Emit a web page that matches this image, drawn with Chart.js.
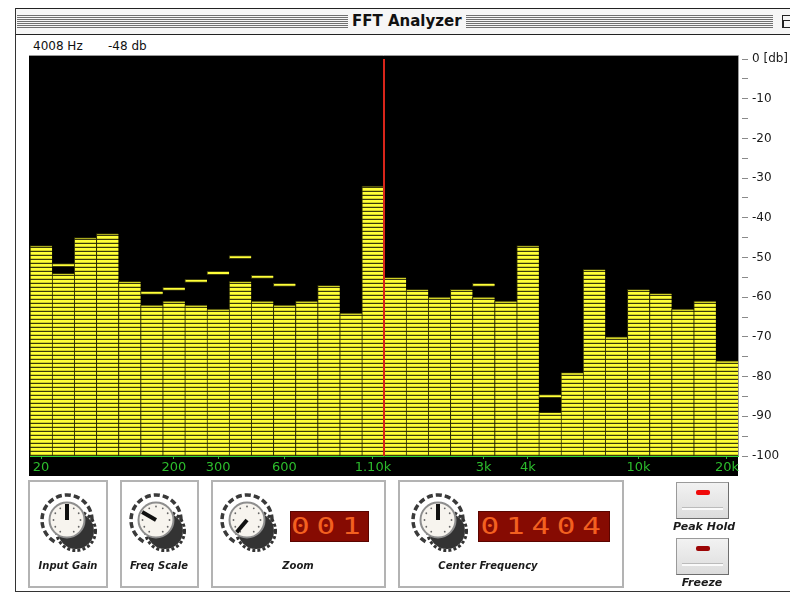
<!DOCTYPE html>
<html>
<head>
<meta charset="utf-8">
<script src="https://cdn.jsdelivr.net/npm/chart.js@4/dist/chart.umd.min.js"></script>
<style>
body { margin: 0; background: #fff; font-family: "DejaVu Sans", sans-serif; }
#win { position: relative; width: 790px; height: 594px; overflow: hidden; background: #fff; }
#chart { position: absolute; left: 0; top: 0; }
#titlebar { position: absolute; left: 15px; top: 8px; width: 790px; height: 25px; background: #f6f6f6;
  border-top: 1px solid #222; border-bottom: 1px solid #222; }
.stripes { position: absolute; top: 6px; height: 13px;
  background: repeating-linear-gradient(to bottom, #707070 0 1px, transparent 1px 2px); }
#title { position: absolute; left: 337px; top: 5px; font: bold 15px/15px "DejaVu Sans", sans-serif; color: #111; }
#zoombox { position: absolute; left: 767px; top: 6px; width: 11px; height: 11px; border: 1px solid #222; background: #f6f6f6; }
#zoombox::after { content: ""; position: absolute; left: 0; top: 4px; width: 6px; height: 6px; border: 1px solid #222; }
#frameL { position: absolute; left: 15px; top: 8px; width: 1px; height: 584px; background: #333; }
#frameB { position: absolute; left: 15px; top: 591px; width: 775px; height: 1px; background: #333; }
.hdr { position: absolute; top: 40px; font: 12px/12px "DejaVu Sans", sans-serif; color: #111; }
.box { position: absolute; top: 480px; border: 2px solid #b3b3b3; box-sizing: border-box; height: 108px; }
.lbl { position: absolute; font: italic bold 10px/10px "DejaVu Sans", sans-serif; color: #1b1b1b; white-space: nowrap; transform: translateX(-50%); }
.led { position: absolute; top: 511px; height: 31px; background: #860b02; border: 1px solid #5a0500; box-sizing: border-box;
  color: #ff6a24; font: 23px/29px "DejaVu Sans Mono", monospace; text-align: center; overflow: hidden; }
.led span { display: inline-block; transform: scaleX(1.35); letter-spacing: 5px; opacity: 0.9; }
.btn { position: absolute; left: 676px; width: 53px; height: 37px; box-sizing: border-box;
  background: linear-gradient(#f2f2f2, #dcdcdc); border: 1px solid #9a9a9a; border-right-color: #6e6e6e; border-bottom-color: #6e6e6e; }
.btn .lamp { position: absolute; left: 19px; top: 7px; width: 14px; height: 5px; border-radius: 2px; }
.btn .ridge { position: absolute; left: 5px; top: 24px; width: 41px; height: 2px; background: #fafafa; border-top: 1px solid #bbb; }
.knob { position: absolute; width: 72px; height: 74px; }
</style>
</head>
<body>
<div id="win">
  <div id="titlebar">
    <div class="stripes" style="left:2px;width:331px"></div>
    <div id="title">FFT Analyzer</div>
    <div class="stripes" style="left:451px;width:307px"></div>
    <div id="zoombox"></div>
  </div>
  <div id="frameL"></div>
  <div id="frameB"></div>
  <div class="hdr" style="left:33px">4008 Hz</div>
  <div class="hdr" style="left:108px">-48 db</div>

  <canvas id="chart" width="790" height="594"></canvas>

  <div class="box" style="left:28px;width:80px"></div>
  <div class="box" style="left:120px;width:79px"></div>
  <div class="box" style="left:211px;width:175px"></div>
  <div class="box" style="left:398px;width:226px"></div>

  <div id="knobs"></div>

  <div class="led" style="left:290px;width:79px"><span>001</span></div>
  <div class="led" style="left:478px;width:132px"><span>01404</span></div>

  <div class="lbl" style="left:68px;top:561px">Input Gain</div>
  <div class="lbl" style="left:159px;top:561px">Freq Scale</div>
  <div class="lbl" style="left:298px;top:561px">Zoom</div>
  <div class="lbl" style="left:488px;top:561px">Center Frequency</div>

  <div class="btn" style="top:482px"><div class="lamp" style="background:#f00a0a"></div><div class="ridge"></div></div>
  <div class="lbl" style="left:704px;top:522px;font-size:11px">Peak Hold</div>
  <div class="btn" style="top:538px"><div class="lamp" style="background:#9c0505"></div><div class="ridge"></div></div>
  <div class="lbl" style="left:702px;top:578px;font-size:11px">Freeze</div>
</div>

<script>
// bandas de frecuencia (solo algunas llevan etiqueta)
const bandLabels = ['20', '', '', '', '', '', '200', '', '300', '', '', '600', '', '', '', '1.10k',
                    '', '', '', '', '3k', '', '4k', '', '', '', '', '10k', '', '', '', '20k'];
// nivel de cada banda en dB
const levelDb = [-47, -54, -45, -44, -56, -62, -61, -62, -63, -56, -61, -62, -61, -57, -64, -32,
                 -55, -58, -60, -58, -60, -61, -47, -89, -79, -53, -70, -58, -59, -63, -61, -76];
// marcas de pico (null = no visible)
const peakDb = [null, -51.5, null, null, null, -58.5, -57.5, -55.5, -53.5, -49.5, -54.5, -56.5, null, null, null, null,
                null, null, null, null, -56.5, null, null, -84.5, null, null, null, null, null, null, null, null];
// cursor rojo entre la banda 16 y 17
const cursorBand = 15.5;
const dbMin = -100;
const dbMax = 0;

// perillas: [centro x, centro y, angulo del indicador]
const knobs = [[67, 520, 0], [156, 520, -60], [247, 520, -140], [438, 520, 0]];

function knobSvg(cx, cy, ang) {
  const c = 32;
  const pt = (a, r) => [c + r * Math.sin(a * Math.PI / 180), c - r * Math.cos(a * Math.PI / 180)];
  const s = pt(210, 25), e = pt(150, 25);
  let dots = '';
  for (let a = -150; a <= 150; a += 30) {
    const p = pt(a, 13.5);
    dots += `<circle cx="${p[0]}" cy="${p[1]}" r="0.9" fill="#666"/>`;
  }
  const tip = pt(ang, 16);
  return `<svg class="knob" style="left:${cx - c}px;top:${cy - c}px" viewBox="0 0 72 74">
    <path d="M${s[0]} ${s[1]} A25 25 0 1 1 ${e[0]} ${e[1]}" fill="none" stroke="#3a3a3a" stroke-width="3.5" stroke-dasharray="6 3"/>
    <circle cx="41" cy="43" r="18" fill="#333"/>
    <circle cx="41" cy="43" r="19.5" fill="none" stroke="#333" stroke-width="3" stroke-dasharray="3 2.2"/>
    <circle cx="${c}" cy="${c}" r="17.5" fill="#f7f4ee" stroke="#8e8e8e" stroke-width="2"/>
    ${dots}
    <line x1="${c}" y1="${c}" x2="${tip[0]}" y2="${tip[1]}" stroke="#111" stroke-width="4"/>
  </svg>`;
}
document.getElementById('knobs').innerHTML = knobs.map(k => knobSvg(k[0], k[1], k[2])).join('');

// patron de segmentos amarillos
const ctx = document.getElementById('chart').getContext('2d');
function stripePattern() {
  const c = document.createElement('canvas');
  c.width = 1; c.height = 4;
  const g = c.getContext('2d');
  g.fillStyle = '#ffff38'; g.fillRect(0, 0, 1, 4);
  g.fillStyle = '#d2d226'; g.fillRect(0, 2, 1, 1);
  g.fillStyle = '#3a3a0c'; g.fillRect(0, 3, 1, 1);
  return ctx.createPattern(c, 'repeat');
}

// fondo negro del analizador
const panelBg = {
  id: 'panelBg',
  beforeDraw(chart) {
    const a = chart.chartArea;
    const g = chart.ctx;
    g.save();
    g.fillStyle = '#000';
    g.fillRect(a.left - 1, a.top - 3, a.right - a.left + 1, chart.scales.x.bottom - a.top + 3);
    g.strokeStyle = '#9a9a9a';
    g.lineWidth = 1;
    g.beginPath();
    g.moveTo(a.left - 1, a.top - 3.5);
    g.lineTo(a.right + 0.5, a.top - 3.5);
    g.lineTo(a.right + 0.5, a.bottom);
    g.stroke();
    g.restore();
  }
};

new Chart(ctx, {
  type: 'bar',
  data: {
    labels: bandLabels,
    datasets: [
      {
        type: 'line',
        xAxisID: 'xc',
        data: [{ x: cursorBand, y: dbMax }, { x: cursorBand, y: dbMin }],
        borderColor: '#d8251a',
        borderWidth: 2,
        pointRadius: 0,
        order: 0
      },
      {
        data: peakDb.map(p => p === null ? null : [p - 0.8, p]),
        backgroundColor: '#ffff38',
        borderColor: '#3a3a0c',
        borderWidth: { top: 1, left: 1, bottom: 1, right: 0 },
        borderSkipped: false,
        grouped: false,
        order: 1
      },
      {
        data: levelDb.map(v => [dbMin, v]),
        backgroundColor: stripePattern(),
        borderColor: '#2e2e06',
        borderWidth: { top: 1, left: 1, bottom: 0, right: 0 },
        borderSkipped: false,
        grouped: false,
        order: 2
      }
    ]
  },
  options: {
    responsive: false,
    animation: false,
    events: [],
    categoryPercentage: 1,
    barPercentage: 1,
    layout: { padding: { left: 30, top: 59, right: 0, bottom: 118 } },
    plugins: { legend: { display: false }, tooltip: { enabled: false } },
    scales: {
      x: {
        type: 'category',
        offset: true,
        afterFit: s => { s.height = 20; },
        border: { display: true, color: '#33d433', width: 1 },
        grid: {
          offset: false,
          drawOnChartArea: false,
          tickLength: 3,
          color: c => bandLabels[c.index] ? '#30b830' : 'rgba(0,0,0,0)'
        },
        ticks: {
          autoSkip: false,
          maxRotation: 0,
          padding: 1,
          color: '#2cbb2c',
          font: { family: 'DejaVu Sans', size: 13 }
        }
      },
      xc: { type: 'linear', display: false, min: -0.5, max: bandLabels.length - 0.5 },
      y: {
        position: 'right',
        min: dbMin,
        max: dbMax,
        afterFit: s => { s.width = 52; },
        border: { display: false },
        grid: {
          drawOnChartArea: false,
          tickLength: 10,
          tickColor: '#8a8a8a',
          tickBorderDash: [0, 4, 6, 20]
        },
        ticks: {
          stepSize: 5,
          autoSkip: false,
          padding: 4,
          color: '#1a1a1a',
          font: { family: 'DejaVu Sans', size: 12 },
          callback: v => v === 0 ? '0 [db]' : (v % 10 === 0 ? String(v) : '')
        }
      }
    }
  },
  plugins: [panelBg]
});
</script>
</body>
</html>
